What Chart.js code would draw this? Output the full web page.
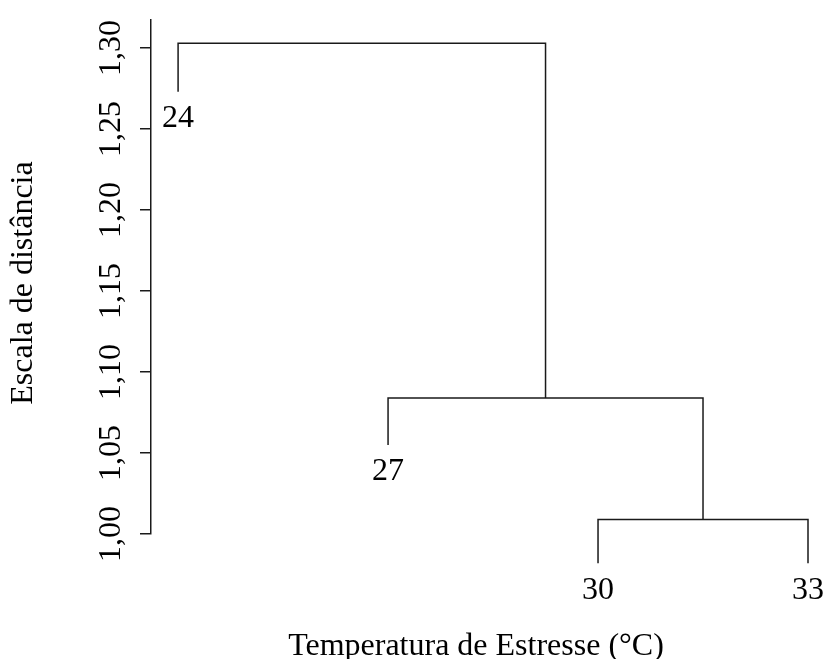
<!DOCTYPE html>
<html>
<head>
<meta charset="utf-8">
<script src="https://cdn.jsdelivr.net/npm/chart.js@4"></script>
<style>
  html, body { margin: 0; padding: 0; background: #fff; }
  #c { display: block; }
</style>
</head>
<body>
<canvas id="c" width="829" height="659"></canvas>
<script>
// leaves of the dendrogram (left to right)
const leafLabels = ['24', '27', '30', '33'];
const leafPos = [1, 2, 3, 4];
const leafHeight = [1.273, 1.055, 0.982, 0.982];

// merges, R-style: negative = leaf index (1-based), positive = earlier merge
const mergePairs = [[-3, -4], [-2, 1], [-1, 2]];
const mergeHeight = [1.009, 1.084, 1.303];

const yTicks = [1.00, 1.05, 1.10, 1.15, 1.20, 1.25, 1.30];
const xTitle = 'Temperatura de Estresse (°C)';
const yTitle = 'Escala de distância';

const FONT = '"Liberation Serif", "Times New Roman", serif';
const INK = '#1a1a1a';

// build the bracket polylines from the merge table
const mergeX = [];
function nodeX(id) { return id < 0 ? leafPos[-id - 1] : mergeX[id - 1]; }
function nodeY(id) { return id < 0 ? leafHeight[-id - 1] : mergeHeight[id - 1]; }

const datasets = mergePairs.map((pair, i) => {
  const [a, b] = pair;
  const xa = nodeX(a), xb = nodeX(b);
  mergeX.push((xa + xb) / 2);
  const h = mergeHeight[i];
  return {
    data: [
      { x: xa, y: nodeY(a) },
      { x: xa, y: h },
      { x: xb, y: h },
      { x: xb, y: nodeY(b) }
    ],
    borderColor: INK,
    borderWidth: 1.5,
    pointRadius: 0,
    tension: 0,
    fill: false,
    clip: false
  };
});

const textPlugin = {
  id: 'dendroText',
  afterDraw(chart) {
    const ctx = chart.ctx;
    const xs = chart.scales.x, ys = chart.scales.y;
    ctx.save();
    ctx.fillStyle = '#000';
    ctx.font = '32px ' + FONT;

    // leaf labels
    ctx.textAlign = 'center';
    ctx.textBaseline = 'middle';
    leafLabels.forEach((lab, i) => {
      const px = xs.getPixelForValue(leafPos[i]);
      const py = ys.getPixelForValue(leafHeight[i]) + 27;
      ctx.fillText(lab, px, py);
    });

    // rotated y tick labels
    ys.ticks.forEach(t => {
      const py = ys.getPixelForValue(t.value);
      ctx.save();
      ctx.translate(112, py);
      ctx.rotate(-Math.PI / 2);
      ctx.fillText(t.value.toFixed(2).replace('.', ','), 0, 0);
      ctx.restore();
    });

    // axis titles
    ctx.textBaseline = 'alphabetic';
    ctx.fillText(xTitle, 476, 655);

    ctx.save();
    ctx.translate(24, 283);
    ctx.rotate(-Math.PI / 2);
    ctx.textBaseline = 'middle';
    ctx.fillText(yTitle, 0, 0);
    ctx.restore();

    ctx.restore();
  }
};

new Chart(document.getElementById('c'), {
  type: 'line',
  data: { datasets },
  options: {
    responsive: false,
    animation: false,
    devicePixelRatio: 1,
    layout: { padding: { left: 0, top: 20, right: 0, bottom: 125 } },
    plugins: { legend: { display: false }, tooltip: { enabled: false } },
    scales: {
      x: {
        type: 'linear',
        min: 0.871,
        max: 4.1,
        display: false
      },
      y: {
        type: 'linear',
        min: 1.0,
        max: 1.3173,
        afterBuildTicks(scale) {
          scale.ticks = yTicks.map(v => ({ value: v }));
        },
        afterFit(scale) { scale.width = 151; },
        ticks: { display: false },
        grid: {
          drawOnChartArea: false,
          drawTicks: true,
          tickLength: 11,
          color: INK,
          lineWidth: 1.5
        },
        border: { display: true, color: INK, width: 1.5 }
      }
    }
  },
  plugins: [textPlugin]
});
</script>
</body>
</html>
